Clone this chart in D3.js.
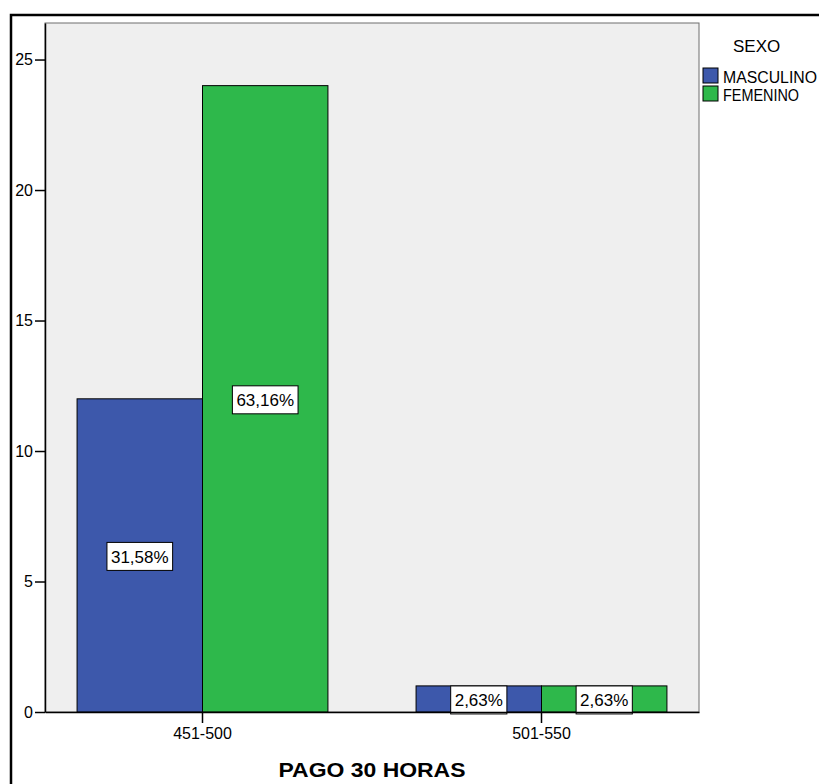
<!DOCTYPE html>
<html>
<head>
<meta charset="utf-8">
<script src="https://cdn.jsdelivr.net/npm/d3@7"></script>
<style>
  html, body { margin: 0; padding: 0; background: #fff; }
  svg { display: block; font-family: "Liberation Sans", Arial, sans-serif; }
</style>
</head>
<body>
<svg id="chart" width="819" height="784"></svg>
<script>
// Pay bracket (30 hours) by sex — counts per group
const categories = ["451-500", "501-550"];
const seriesNames = ["MASCULINO", "FEMENINO"];
const masculino = [12, 1];
const femenino = [24, 1];
const yTicks = [0, 5, 10, 15, 20, 25];
const seriesColors = ["#3D58AB", "#2EB84B"];

const total = d3.sum(masculino) + d3.sum(femenino);
const fmtPct = v => (v / total * 100).toFixed(2).replace(".", ",") + "%";

const svg = d3.select("#chart");

// Outer frame
svg.append("rect")
  .attr("x", 11).attr("y", 15)
  .attr("width", 840).attr("height", 800)
  .attr("fill", "none").attr("stroke", "#000").attr("stroke-width", 2.5);

const plot = { left: 45, right: 699, top: 23, bottom: 712 };

const x = d3.scaleBand()
  .domain(categories)
  .range([plot.left, plot.right])
  .paddingInner(0.26)
  .paddingOuter(0.0946);

const xs = d3.scaleBand()
  .domain(seriesNames)
  .range([0, x.bandwidth()]);

const y = d3.scaleLinear()
  .domain([0, 26.4])
  .range([plot.bottom, plot.top]);

const color = d3.scaleOrdinal().domain(seriesNames).range(seriesColors);

// Plot background
svg.append("rect")
  .attr("x", plot.left).attr("y", plot.top)
  .attr("width", plot.right - plot.left).attr("height", plot.bottom - plot.top)
  .attr("fill", "#EFEFEF").attr("stroke", "#6e6e6e").attr("stroke-width", 1);

const rows = categories.map((c, i) => ({
  cat: c,
  values: [
    { name: seriesNames[0], value: masculino[i] },
    { name: seriesNames[1], value: femenino[i] }
  ]
}));

const groups = svg.append("g").selectAll("g")
  .data(rows).join("g")
  .attr("transform", d => `translate(${x(d.cat)},0)`);

groups.selectAll("rect")
  .data(d => d.values).join("rect")
  .attr("x", d => xs(d.name))
  .attr("y", d => y(d.value))
  .attr("width", xs.bandwidth())
  .attr("height", d => y(0) - y(d.value))
  .attr("fill", d => color(d.name))
  .attr("stroke", "#000").attr("stroke-width", 1);

// Axes
const yAxis = d3.axisLeft(y).tickValues(yTicks).tickSize(10).tickSizeOuter(0)
  .tickPadding(2).tickFormat(d3.format("d"));
const gy = svg.append("g").attr("transform", `translate(${plot.left},0)`).call(yAxis);
gy.select(".domain").attr("stroke", "#000").attr("stroke-width", 1.5);
gy.selectAll(".tick line").attr("stroke", "#000").attr("stroke-width", 1.5);
gy.selectAll(".tick text").attr("font-size", 16).attr("fill", "#000")
  .attr("font-family", "'Liberation Sans', Arial, sans-serif");

const xAxis = d3.axisBottom(x).tickSize(11).tickPadding(5).tickSizeOuter(0);
const gx = svg.append("g").attr("transform", `translate(0,${plot.bottom})`).call(xAxis);
gx.select(".domain").attr("stroke", "#000").attr("stroke-width", 1.5);
gx.selectAll(".tick line").attr("stroke", "#000").attr("stroke-width", 1.5);
gx.selectAll(".tick text").attr("font-size", 16).attr("fill", "#000")
  .attr("font-family", "'Liberation Sans', Arial, sans-serif");

// Percentage labels at bar mid-height
const labels = groups.selectAll("g.lbl")
  .data(d => d.values).join("g").attr("class", "lbl")
  .attr("transform", d => `translate(${xs(d.name) + xs.bandwidth() / 2},${y(d.value / 2) + 1})`);

labels.each(function(d) {
  const g = d3.select(this);
  const t = g.append("text")
    .attr("text-anchor", "middle")
    .attr("dy", "0.36em")
    .attr("font-size", 17)
    .attr("fill", "#000")
    .text(fmtPct(d.value));
  const w = t.node().getComputedTextLength() + 8;
  g.insert("rect", "text")
    .attr("x", -w / 2).attr("y", -14)
    .attr("width", w).attr("height", 28)
    .attr("fill", "#fff").attr("stroke", "#000").attr("stroke-width", 1);
});

// Axis title
svg.append("text")
  .attr("x", (plot.left + plot.right) / 2).attr("y", 777)
  .attr("text-anchor", "middle")
  .attr("font-size", 20).attr("font-weight", "bold")
  .attr("textLength", 187).attr("lengthAdjust", "spacingAndGlyphs")
  .text("PAGO 30 HORAS");

// Legend
const legend = svg.append("g");
legend.append("text")
  .attr("x", 733).attr("y", 52)
  .attr("font-size", 17)
  .text("SEXO");
const legendWidths = [94, 76];
seriesNames.forEach((s, i) => {
  const yy = 68 + i * 18;
  legend.append("rect")
    .attr("x", 703).attr("y", yy)
    .attr("width", 15).attr("height", 15)
    .attr("fill", color(s)).attr("stroke", "#000").attr("stroke-width", 1);
  legend.append("text")
    .attr("x", 723).attr("y", yy + 15)
    .attr("font-size", 16)
    .attr("textLength", legendWidths[i]).attr("lengthAdjust", "spacingAndGlyphs")
    .text(s);
});
</script>
</body>
</html>
